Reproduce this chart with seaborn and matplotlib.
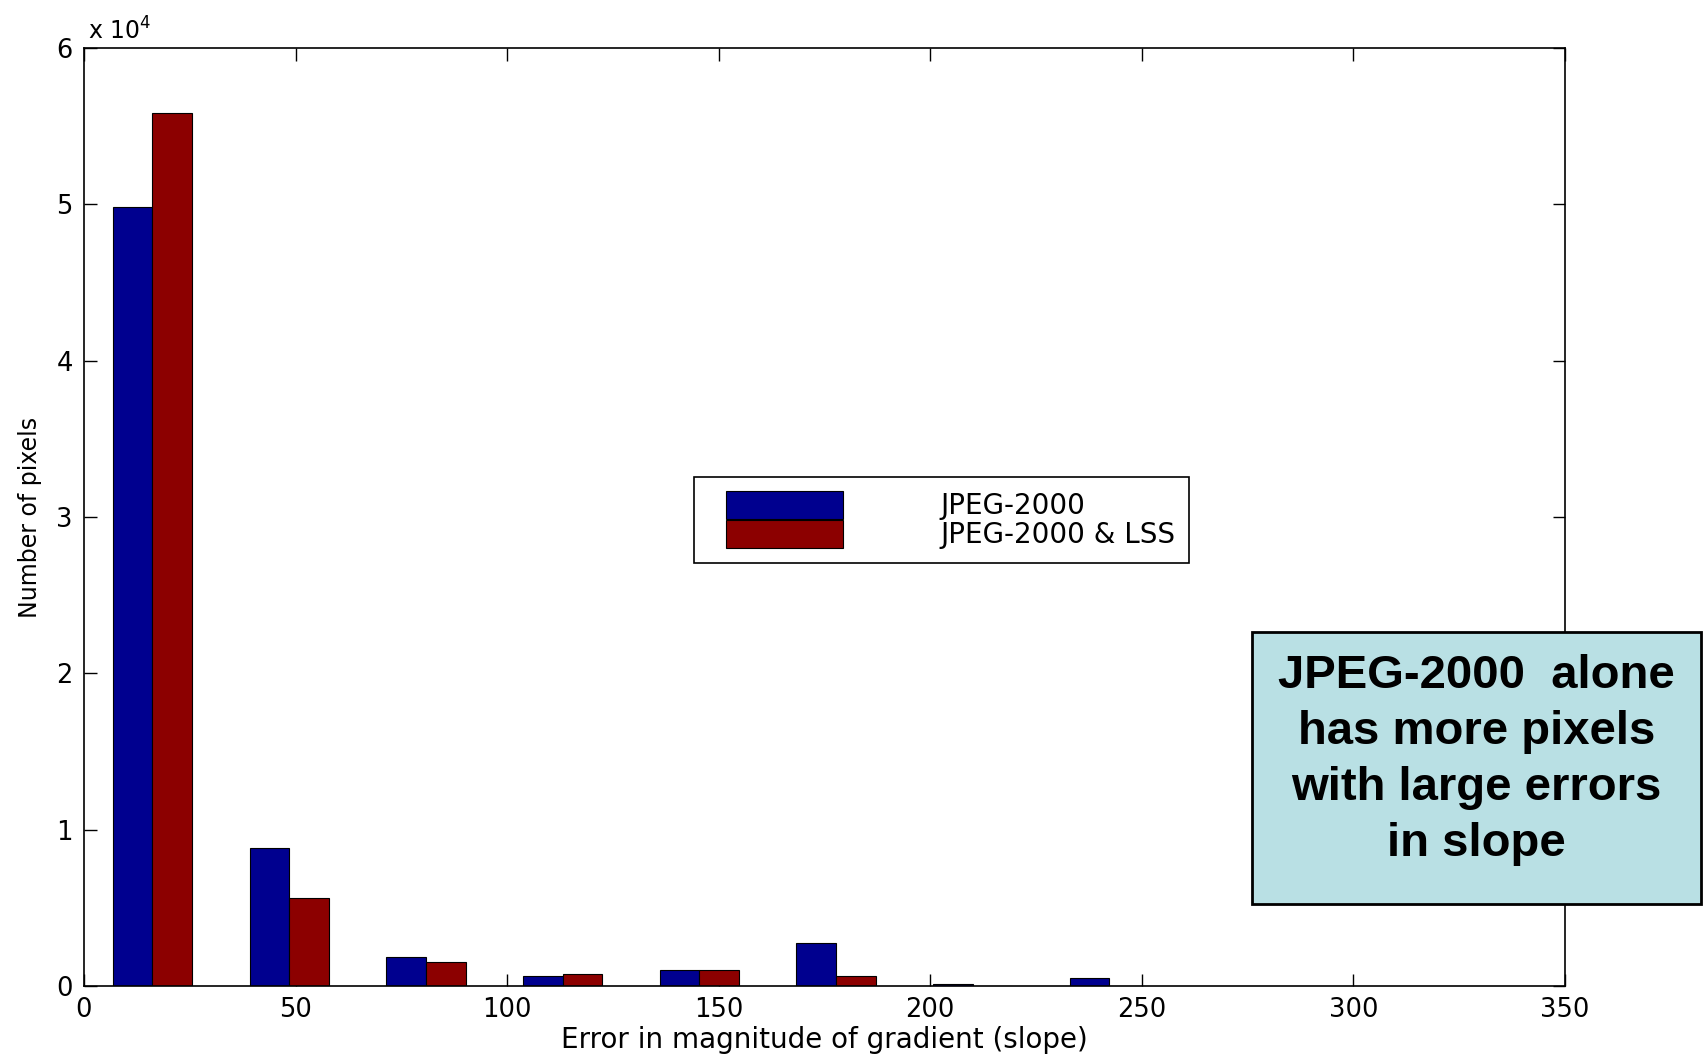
import numpy as np
import pandas as pd
import seaborn as sns
import matplotlib
matplotlib.use("Agg")
import matplotlib.pyplot as plt
from matplotlib.patches import Patch, Rectangle
from matplotlib.legend_handler import HandlerPatch

# Histogram bin centres (error in gradient magnitude) and pixel counts per method
bin_centers = [16.2, 48.5, 80.8, 113.1, 145.4, 177.7, 210.0, 242.3]
counts_jpeg = [49800, 8840, 1870, 640, 1020, 2730, 110, 510]
counts_jpeg_lss = [55870, 5660, 1530, 740, 1020, 640, 0, 0]
methods = ["JPEG-2000", "JPEG-2000 & LSS"]

x_ticks = [0, 50, 100, 150, 200, 250, 300, 350]
y_ticks = [0, 10000, 20000, 30000, 40000, 50000, 60000]
y_tick_labels = ["0", "1", "2", "3", "4", "5", "6"]

note_text = "JPEG-2000  alone\nhas more pixels\nwith large errors\nin slope"

df = pd.DataFrame({
    "center": bin_centers * 2,
    "count": counts_jpeg + counts_jpeg_lss,
    "method": [methods[0]] * len(bin_centers) + [methods[1]] * len(bin_centers),
})

sns.set_theme(style="ticks")
plt.rcParams["font.family"] = ["DejaVu Sans"]
plt.rcParams["text.color"] = "black"
plt.rcParams["axes.labelcolor"] = "black"
plt.rcParams["xtick.color"] = "black"
plt.rcParams["ytick.color"] = "black"

colors = {methods[0]: "#00008F", methods[1]: "#8C0000"}

fig = plt.figure(figsize=(17.06, 10.58), dpi=100)
ax = fig.add_axes([0.0492, 0.068, 0.9174 - 0.0492, 0.9546 - 0.068])

sns.barplot(
    data=df, x="center", y="count", hue="method", hue_order=methods,
    palette=colors, native_scale=True, dodge=True, width=0.58,
    errorbar=None, saturation=1, edgecolor="black", linewidth=0.8,
    legend=False, ax=ax,
)

ax.set_xlim(0, 350)
ax.set_ylim(0, 60000)
ax.set_xticks(x_ticks)
ax.set_xticklabels([str(t) for t in x_ticks])
ax.set_yticks(y_ticks)
ax.set_yticklabels(y_tick_labels)
ax.tick_params(direction="in", top=True, right=True, length=9, width=1.0,
               labelsize=18.5, colors="black", pad=8)
for sp in ax.spines.values():
    sp.set_visible(True)
    sp.set_linewidth(1.2)
    sp.set_color("black")

ax.set_xlabel("Error in magnitude of gradient (slope)", fontsize=20, labelpad=2)
ax.set_ylabel("Number of pixels", fontsize=17, labelpad=10)
ax.text(0.003, 1.004, r"x 10$^{4}$", transform=ax.transAxes,
        ha="left", va="bottom", fontsize=17)


# Legend swatches sit a little inside the frame, as in MATLAB legends
def inset_swatch(legend, orig_handle, xdescent, ydescent, width, height, fontsize):
    shift = 12.7
    return Rectangle((-xdescent + shift, -ydescent), width - shift, height)


handles = [Patch(facecolor=colors[m], edgecolor="black", linewidth=0.8) for m in methods]
leg = ax.legend(
    handles, methods, loc="upper left", bbox_to_anchor=(0.412, 0.543),
    borderaxespad=0, fontsize=20, frameon=True, fancybox=False,
    handlelength=4.87, handleheight=1.17, handletextpad=3.5,
    labelspacing=0.0, borderpad=0.5,
    handler_map={Patch: HandlerPatch(patch_func=inset_swatch)},
)
leg.get_frame().set_edgecolor("black")
leg.get_frame().set_linewidth(1.2)
leg.get_frame().set_alpha(1)

# Call-out box on the right
fig.patches.append(Rectangle((0.7339, 0.1456), 0.997 - 0.7339, 0.4026 - 0.1456,
                             transform=fig.transFigure, facecolor="#B9E0E4",
                             edgecolor="black", linewidth=2.0, zorder=5))
fig.text(0.8655, 0.2817, note_text, ha="center", va="center", fontsize=34,
         fontweight="bold", color="black",
         family=["Liberation Sans", "DejaVu Sans"],
         linespacing=1.35, zorder=6)

fig.savefig("out.png", dpi=100)
